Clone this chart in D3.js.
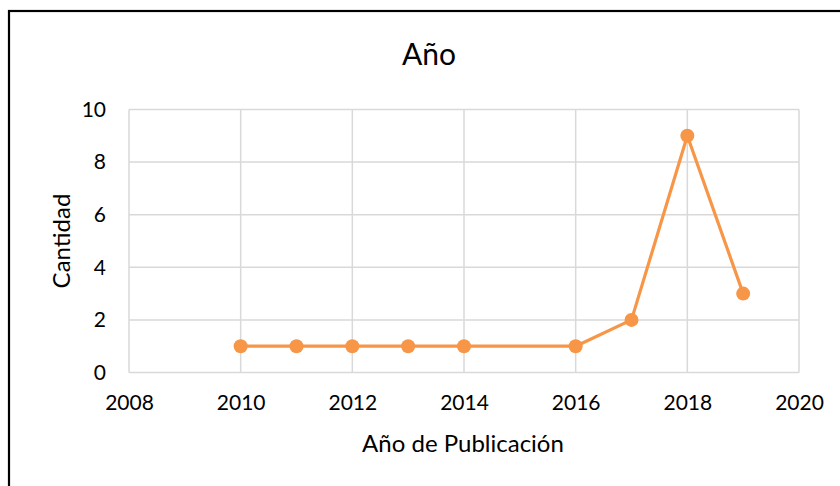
<!DOCTYPE html>
<html><head><meta charset="utf-8">
<script src="https://cdn.jsdelivr.net/npm/d3@7"></script>
<style>body{margin:0;background:#fff;} text{font-family:Lato, "Open Sans", sans-serif;fill:#000;}</style>
</head><body>
<script>
const years = [2010, 2011, 2012, 2013, 2014, 2016, 2017, 2018, 2019];
const counts = [1, 1, 1, 1, 1, 1, 2, 9, 3];
const xTicks = [2008, 2010, 2012, 2014, 2016, 2018, 2020];
const yTicks = [0, 2, 4, 6, 8, 10];
const title = "Año";
const xTitle = "Año de Publicación";
const yTitle = "Cantidad";

const W = 840, H = 486;
const m = {left: 129, right: 41, top: 109.5, bottom: 113.5};
const svg = d3.select("body").append("svg").attr("width", W).attr("height", H);

svg.append("rect").attr("x", 9).attr("y", 11).attr("width", W + 10).attr("height", H + 10)
  .attr("fill", "#fff").attr("stroke", "#000").attr("stroke-width", 2.2);

const x = d3.scaleLinear().domain([2008, 2020]).range([m.left, W - m.right]);
const y = d3.scaleLinear().domain([0, 10]).range([H - m.bottom, m.top]);

const grid = svg.append("g").attr("stroke", "#d9d9d9").attr("stroke-width", 1.5);
grid.selectAll(".h").data(yTicks).join("line")
  .attr("x1", x.range()[0]).attr("x2", x.range()[1])
  .attr("y1", d => y(d)).attr("y2", d => y(d));
grid.selectAll(".v").data(xTicks).join("line")
  .attr("y1", y.range()[0]).attr("y2", y.range()[1])
  .attr("x1", d => x(d)).attr("x2", d => x(d));

const xAxis = svg.append("g").attr("transform", `translate(0,${y(0)})`)
  .call(d3.axisBottom(x).tickValues(xTicks).tickFormat(d3.format("d")).tickSize(0).tickPadding(23));
xAxis.select(".domain").remove();
xAxis.selectAll("text").attr("font-size", 21).attr("font-family", "Lato");

const yAxis = svg.append("g").attr("transform", `translate(${x(2008)},0)`)
  .call(d3.axisLeft(y).tickValues(yTicks).tickSize(0).tickPadding(23));
yAxis.select(".domain").remove();
yAxis.selectAll("text").attr("font-size", 21).attr("font-family", "Lato");

const line = d3.line().x((d, i) => x(years[i])).y(d => y(d));
svg.append("path").datum(counts).attr("d", line)
  .attr("fill", "none").attr("stroke", "#f79646").attr("stroke-width", 3.2).attr("stroke-linejoin", "round");
svg.selectAll(".pt").data(counts).join("circle")
  .attr("cx", (d, i) => x(years[i])).attr("cy", d => y(d)).attr("r", 7).attr("fill", "#f79646");

svg.append("text").attr("x", 429).attr("y", 65).attr("text-anchor", "middle")
  .attr("font-size", 30).text(title);
svg.append("text").attr("x", 463).attr("y", 452).attr("text-anchor", "middle")
  .attr("font-size", 24).text(xTitle);
svg.append("text").attr("transform", `translate(70,${(y(0) + y(10)) / 2}) rotate(-90)`)
  .attr("text-anchor", "middle").attr("font-size", 24).text(yTitle);
</script>
</body></html>
